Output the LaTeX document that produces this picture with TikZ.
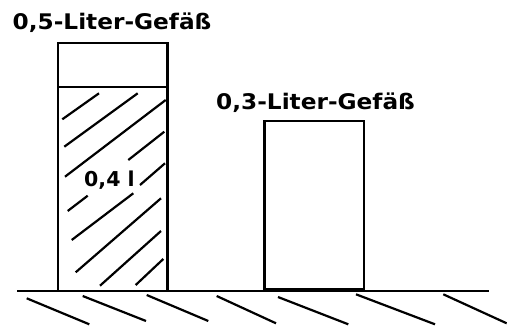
\documentclass[tikz,border=0pt]{standalone}
\usepackage{fontspec}
\setmainfont{DejaVu Sans}
\begin{document}
\begin{tikzpicture}[x=1pt,y=-1pt,
  edge/.style={line width=2.4pt},
  hatch/.style={line width=2.2pt},
  lbl/.style={inner sep=0pt, font=\fontsize{21.5}{25}\selectfont\bfseries}]
\useasboundingbox (0,0) rectangle (507,325);
% labels
\node[lbl, anchor=base west] (l1) at (12.5,29.3) {\scalebox{1.08}[1]{0,5-Liter-Gef\"a\ss}};
\node[lbl, anchor=base west] (l2) at (216,109.3) {\scalebox{1.08}[1]{0,3-Liter-Gef\"a\ss}};
% left vessel hatching
\draw[hatch] (62.3,119.3) -- (99,93.3);
\draw[hatch] (64.3,146.7) -- (137.7,93.3);
\draw[hatch] (65,176.7) -- (165.7,100);
\draw[hatch] (128.3,160) -- (164.3,131.7);
\draw[hatch] (67.7,211) -- (87.7,195.7);
\draw[hatch] (140,185) -- (165,163.3);
\draw[hatch] (71.7,240) -- (133.3,193.3);
\draw[hatch] (75.7,272.3) -- (161,198.3);
\draw[hatch] (100,285.7) -- (161,231);
\draw[hatch] (135.7,285) -- (163.3,259);
\node[lbl, anchor=base west, font=\fontsize{20.5}{24}\selectfont\bfseries] (v) at (84,186) {0,4 l};
% vessels
\draw[edge] (58,291) rectangle (167.5,43);
\draw[edge] (58,87) -- (167.5,87);
\draw[edge] (264.5,289.5) rectangle (364,121);
% ground
\draw[edge] (17,291) -- (489,291);
\draw[hatch] (26.7,298.3) -- (89.3,324.3);
\draw[hatch] (82.7,296) -- (146,321);
\draw[hatch] (146.7,295) -- (208.3,321);
\draw[hatch] (216.7,296) -- (276,323.3);
\draw[hatch] (278,297) -- (348.3,324.3);
\draw[hatch] (356,294.3) -- (435,324.3);
\draw[hatch] (443.3,294.3) -- (506.7,323.3);
\end{tikzpicture}
\end{document}
